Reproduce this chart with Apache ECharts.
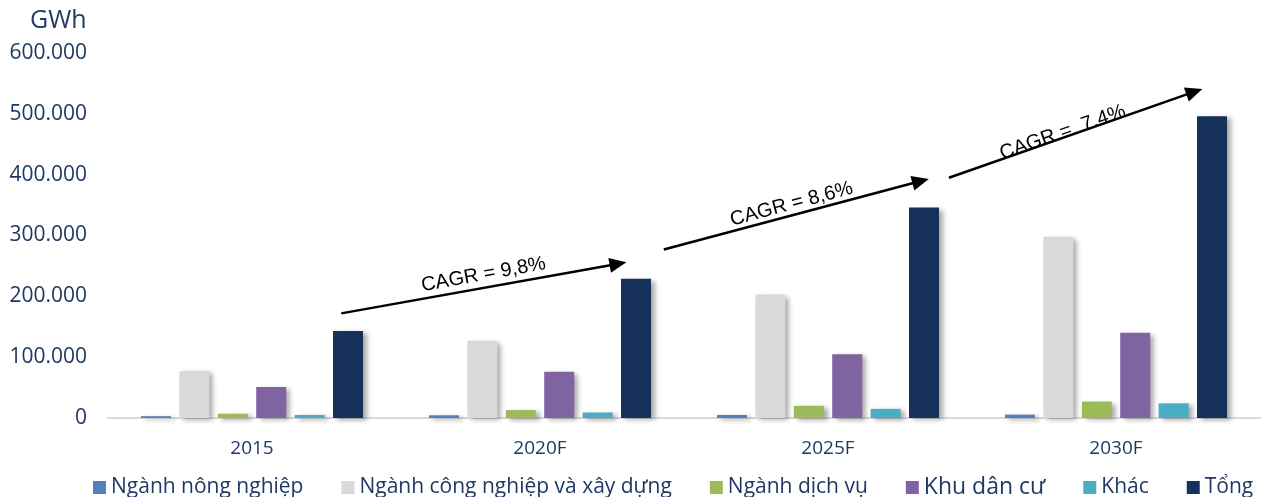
<!DOCTYPE html>
<html>
<head>
<meta charset="utf-8">
<script src="https://cdn.jsdelivr.net/npm/echarts@6/dist/echarts.min.js"></script>
<style>
  html, body { margin: 0; padding: 0; background: #fff; }
  #chart { width: 1261px; height: 497px; }
</style>
</head>
<body>
<div id="chart"></div>
<script>
// categories & series values (GWh)
const years = ['2015', '2020F', '2025F', '2030F'];
const seriesNames = ['Ngành nông nghiệp', 'Ngành công nghiệp và xây dựng', 'Ngành dịch vụ', 'Khu dân cư', 'Khác', 'Tổng'];
const agriculture = [3000, 4500, 5000, 5500];
const industry = [77000, 127000, 203000, 298000];
const services = [7000, 13000, 20000, 27000];
const residential = [51000, 76000, 105000, 140000];
const other = [5000, 9000, 15000, 24000];
const total = [143000, 229000, 346000, 496000];
const seriesColors = ['#4F81BD', '#D9D9D9', '#9BBB59', '#8064A2', '#4BACC6', '#17325A'];

// CAGR arrows, in (category index, GWh) units
const cagrLabels = ['CAGR = 9,8%', 'CAGR = 8,6%', 'CAGR =  7.4%'];
const arrowFrom = [[0.31, 172000], [1.43, 277000], [2.42, 395000]];
const arrowTo = [[1.30, 256000], [2.35, 393000], [3.30, 541000]];

// label offsets from arrow midpoint (px): lift above line, slide along line
const labelLift = [13, 11, 5];
const labelSlide = [2, -2, -12];

const navy = '#1F3864';
const fontFamily = '"Open Sans", "Noto Sans", sans-serif';

const chart = echarts.init(document.getElementById('chart'));

const values = [agriculture, industry, services, residential, other, total];

const option = {
  animation: false,
  title: {
    text: 'GWh',
    left: 25,
    top: 3,
    textStyle: { color: navy, fontSize: 25, fontWeight: 'normal', fontFamily }
  },
  grid: { left: 108, right: 1, top: 53, bottom: 79 },
  legend: {
    bottom: -7,
    left: 88,
    itemWidth: 13,
    itemHeight: 13,
    itemGap: 38,
    icon: 'rect',
    data: seriesNames,
    formatter: name => name === 'Khu dân cư' ? '{big|' + name + '}' : name,
    textStyle: {
      color: navy, fontSize: 21, fontFamily,
      rich: { big: { fontSize: 23, color: navy, fontFamily } }
    }
  },
  xAxis: [
    {
      type: 'category',
      data: years,
      axisLine: { lineStyle: { color: '#D9D9D9', width: 2 } },
      axisTick: { show: false },
      axisLabel: { color: navy, fontSize: 19, fontFamily, margin: 21 }
    },
    { type: 'value', min: -0.5, max: 3.5, show: false }
  ],
  yAxis: {
    type: 'value',
    min: 0,
    max: 600000,
    interval: 100000,
    axisLine: { show: false },
    axisTick: { show: false },
    splitLine: { show: false },
    axisLabel: {
      color: navy, fontSize: 21, fontFamily, margin: 21,
      formatter: v => v === 0 ? '0' : String(v).replace(/\B(?=(\d{3})+(?!\d))/g, '.')
    }
  },
  series: seriesNames.map((name, i) => ({
    name,
    type: 'bar',
    xAxisIndex: 0,
    data: values[i],
    barWidth: 30,
    barGap: '28%',
    itemStyle: {
      color: seriesColors[i],
      shadowColor: 'rgba(0,0,0,0.35)',
      shadowBlur: 5,
      shadowOffsetX: 4,
      shadowOffsetY: 2
    }
  }))
};

chart.setOption(option);

// arrows + rotated CAGR labels
function toPx(p) {
  return [
    chart.convertToPixel({ xAxisIndex: 1 }, p[0]),
    chart.convertToPixel({ yAxisIndex: 0 }, p[1])
  ];
}

const graphics = [];
cagrLabels.forEach((label, i) => {
  const a = toPx(arrowFrom[i]);
  const b = toPx(arrowTo[i]);
  const dx = b[0] - a[0], dy = b[1] - a[1];
  const len = Math.sqrt(dx * dx + dy * dy);
  const ux = dx / len, uy = dy / len;
  const nx = -uy, ny = ux;
  const head = 17, half = 7.5;
  const base = [b[0] - ux * head, b[1] - uy * head];
  graphics.push({
    type: 'line',
    shape: { x1: a[0], y1: a[1], x2: base[0] + ux * 2, y2: base[1] + uy * 2 },
    style: { stroke: '#000', lineWidth: 2.5 },
    z: 100
  });
  graphics.push({
    type: 'polygon',
    shape: { points: [b, [base[0] + nx * half, base[1] + ny * half], [base[0] - nx * half, base[1] - ny * half]] },
    style: { fill: '#000' },
    z: 100
  });
  const mid = [(a[0] + b[0]) / 2, (a[1] + b[1]) / 2];
  // normal pointing up (negative y)
  const upx = ny < 0 ? nx : -nx, upy = ny < 0 ? ny : -ny;
  graphics.push({
    type: 'text',
    x: mid[0] + upx * labelLift[i] + ux * labelSlide[i],
    y: mid[1] + upy * labelLift[i] + uy * labelSlide[i],
    rotation: Math.atan2(-dy, dx),
    style: {
      text: label,
      font: '20px "Liberation Sans", Arial, sans-serif',
      fill: '#000',
      align: 'center',
      verticalAlign: 'middle'
    },
    z: 101
  });
});

chart.setOption({ graphic: graphics });
</script>
</body>
</html>
